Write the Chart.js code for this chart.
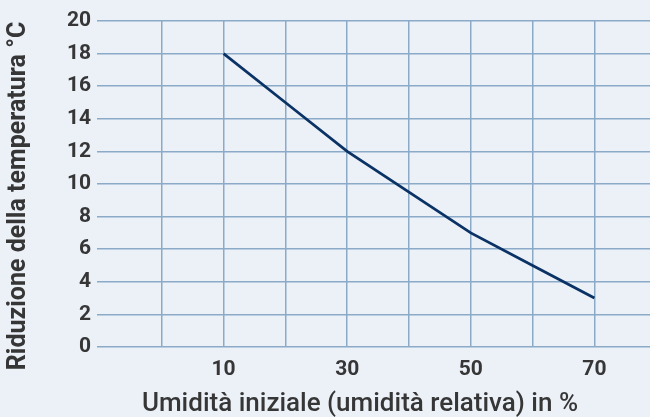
<!DOCTYPE html>
<html>
<head>
<meta charset="utf-8">
<script src="https://cdn.jsdelivr.net/npm/chart.js@4"></script>
<style>
  html, body { margin: 0; padding: 0; background: #ecf1f8; }
  #box { width: 650px; height: 417px; }
</style>
</head>
<body>
<div id="box"><canvas id="grafico"></canvas></div>
<script>
// dati
const umidita = [10, 20, 30, 40, 50, 60, 70];
const riduzione = [18, 15, 12, 9.5, 7, 5, 3];
const etichetteX = [10, 30, 50, 70];

const titoloX = "Umidità iniziale (umidità relativa) in %";
const titoloY = "Riduzione della temperatura °C";

const colGriglia = "#8aaac8";
const colTesto = "#363636";

const canvas = document.getElementById("grafico");

// titoli degli assi disegnati a mano per metterli dove stanno nell'originale
const titoliAssi = {
  id: "titoliAssi",
  afterDraw(chart) {
    const ctx = chart.ctx;
    ctx.save();
    ctx.fillStyle = colTesto;
    ctx.textAlign = "center";
    ctx.textBaseline = "middle";

    ctx.font = "500 26px Roboto";
    ctx.fillText(titoloX, 360, 404);

    ctx.translate(19, 196);
    ctx.rotate(-Math.PI / 2);
    ctx.font = "bold 25px Roboto";
    ctx.fillText(titoloY, 0, 0);
    ctx.restore();
  },
};

const config = {
  type: "line",
  data: {
    datasets: [
      {
        data: umidita.map((u, i) => ({ x: u, y: riduzione[i] })),
        borderColor: "#0a3264",
        borderWidth: 2.8,
        pointRadius: 0,
        tension: 0,
        fill: false,
      },
    ],
  },
  options: {
    responsive: true,
    maintainAspectRatio: false,
    animation: false,
    layout: { padding: { top: 21, right: 0, left: 0, bottom: 0 } },
    plugins: { legend: { display: false }, tooltip: { enabled: false } },
    scales: {
      x: {
        type: "linear",
        min: -10,
        max: 79,
        border: { display: false },
        grid: {
          drawTicks: false,
          lineWidth: 1.5,
          color: (ctx) => {
            const v = ctx.tick ? ctx.tick.value : -10;
            return v > -10 && v % 10 === 0 ? colGriglia : "rgba(0,0,0,0)";
          },
        },
        ticks: {
          stepSize: 10,
          autoSkip: false,
          maxRotation: 0,
          padding: 10,
          color: colTesto,
          font: { family: "Roboto", size: 21, weight: "bold" },
          callback: (v) => (etichetteX.includes(v) ? String(v) : ""),
        },
        afterFit: (scale) => {
          scale.height = 70;
          scale.paddingLeft = 0;
          scale.paddingRight = 0;
        },
      },
      y: {
        min: 0,
        max: 20,
        border: { display: false },
        grid: {
          color: colGriglia,
          lineWidth: 1.5,
          drawTicks: true,
          tickLength: 3,
        },
        ticks: {
          stepSize: 2,
          padding: 6,
          color: colTesto,
          font: { family: "Roboto", size: 21, weight: "bold" },
        },
        afterFit: (scale) => {
          scale.width = 100;
        },
      },
    },
  },
  plugins: [titoliAssi],
};

new Chart(canvas, config);
</script>
</body>
</html>
